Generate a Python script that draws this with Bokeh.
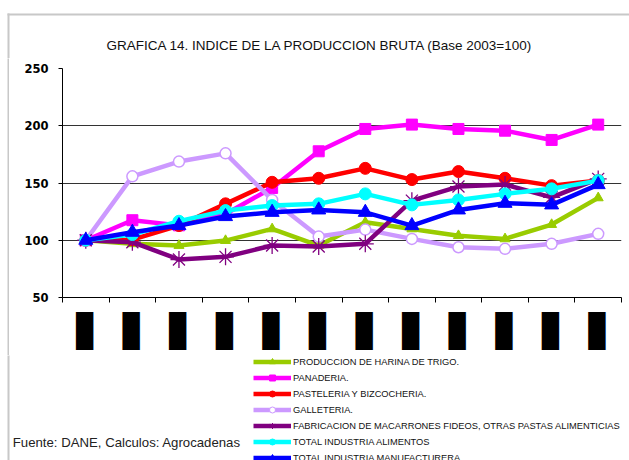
import math
from bokeh.plotting import figure
from bokeh.layouts import column, row
from bokeh.models import (FixedTicker, Legend, LegendItem, Label, Range1d, BoxAnnotation)
from bokeh.embed import file_html
from bokeh.resources import INLINE

# ---- data ----
years = [2003, 2004, 2005, 2006, 2007, 2008, 2009, 2010, 2011, 2012, 2013, 2014]
harina = [100, 96.9, 95.4, 99.7, 109.9, 95.4, 115.7, 109.9, 104.0, 101.2, 113.7, 137.0]
panaderia = [100, 117.5, 113.0, 123.0, 145.7, 177.7, 197.2, 201.0, 197.2, 195.7, 187.6, 201.0]
pasteleria = [100, 100.5, 112.8, 131.8, 150.6, 154.1, 162.8, 153.0, 160.0, 154.1, 147.7, 152.1]
galleteria = [100, 155.8, 168.7, 175.9, 135.2, 103.2, 109.3, 101.2, 93.9, 92.5, 96.9, 105.6]
macarrones = [100, 98.3, 83.2, 85.5, 95.4, 94.5, 96.9, 134.6, 146.9, 148.6, 137.5, 153.6]
alimentos = [100, 105.0, 116.6, 125.9, 130.3, 131.8, 140.5, 130.9, 135.2, 140.5, 144.9, 152.1]
manufacturera = [100, 107.0, 112.8, 120.7, 124.4, 126.5, 124.4, 112.8, 126.5, 132.3, 130.9, 148.6]

series_names = [
    "PRODUCCION DE HARINA DE TRIGO.",
    "PANADERIA.",
    "PASTELERIA Y BIZCOCHERIA.",
    "GALLETERIA.",
    "FABRICACION DE MACARRONES FIDEOS, OTRAS PASTAS ALIMENTICIAS",
    "TOTAL INDUSTRIA ALIMENTOS",
    "TOTAL INDUSTRIA MANUFACTURERA",
]
series_values = [harina, panaderia, pasteleria, galleteria, macarrones, alimentos, manufacturera]
y_ticks = [50, 100, 150, 200, 250]
x_tick_labels = ["\u2589"] * len(years)   # category labels appear as solid black blocks
title_text = "GRAFICA 14. INDICE DE LA PRODUCCION BRUTA (Base 2003=100)"
source_text = "Fuente: DANE, Calculos: Agrocadenas"

# ---- styles ----
styles = [
    dict(color="#99CC00", marker="triangle", size=10, fill="#99CC00", lw=1),
    dict(color="#FF00FF", marker="square", size=11, fill="#FF00FF", lw=1),
    dict(color="#FF0000", marker="circle", size=12, fill="#FF0000", lw=1),
    dict(color="#CC99FF", marker="circle", size=11, fill="#FFFFFF", lw=1.5),
    dict(color="#800080", marker="asterisk", size=17, fill="#800080", lw=1.3),
    dict(color="#00FFFF", marker="circle", size=12, fill="#00FFFF", lw=1),
    dict(color="#0000FF", marker="triangle", size=14, fill="#0000FF", lw=1),
]

FONT = "Liberation Sans"
W = 629
H_TOP = 58      # title strip
H1 = 297        # main plot
H2 = 105        # legend + source strip
W_L = 9         # strip carrying the left edge of the grey frame
GREY = "#c8c8c8"


def blank_fig(width, height):
    f = figure(width=width, height=height, output_backend="svg", toolbar_location=None,
               x_range=Range1d(0, 1), y_range=Range1d(0, 1),
               x_axis_type=None, y_axis_type=None, frame_align=False,
               min_border_left=0, min_border_right=0, min_border_top=0, min_border_bottom=0)
    f.outline_line_color = None
    f.grid.visible = False
    f.background_fill_color = "white"
    f.border_fill_color = "white"
    return f


def grey_box(left, right, bottom, top):
    return BoxAnnotation(left=left, right=right, top=top, bottom=bottom,
                         left_units="screen", right_units="screen",
                         top_units="screen", bottom_units="screen",
                         fill_color=GREY, fill_alpha=1, line_alpha=0)


# ---- title strip ----
pt = blank_fig(W, H_TOP)
pt.add_layout(grey_box(7, W + 10, H_TOP - 15, H_TOP - 13))
pt.add_layout(grey_box(7, 9, -5, H_TOP - 13))
pt.add_layout(Label(x=106, y=H_TOP - 45, x_units="screen", y_units="screen",
                    text=title_text, text_font=FONT, text_font_size="13.5px",
                    text_color="#111111", text_align="left", text_baseline="alphabetic"))

# ---- left edge strip ----
pl = blank_fig(W_L, H1)
pl.add_layout(grey_box(7, 9, -5, H1 + 5))

# ---- main plot ----
p = figure(width=W - W_L, height=H1, output_backend="svg", toolbar_location=None,
           x_range=Range1d(years[0] - 0.5, years[-1] + 0.5),
           y_range=Range1d(y_ticks[0], y_ticks[-1]),
           min_border_left=62 - W_L, min_border_right=8, min_border_top=68 - H_TOP,
           min_border_bottom=H_TOP + H1 - 297, frame_align=False)
p.outline_line_color = None
p.background_fill_color = "white"
p.border_fill_color = "white"

p.xaxis.ticker = FixedTicker(ticks=years, minor_ticks=[y - 0.5 for y in years] + [years[-1] + 0.5])
p.xaxis.major_label_overrides = {y: lab for y, lab in zip(years, x_tick_labels)}
p.xaxis.major_label_orientation = "horizontal"
p.xaxis.major_label_text_font = "DejaVu Sans Mono"
p.xaxis.major_label_text_font_size = "32px"
p.xaxis.major_label_text_color = "black"
p.xaxis.major_label_standoff = 9
p.xaxis.major_tick_out = 0
p.xaxis.major_tick_in = 0
p.xaxis.minor_tick_out = 5
p.xaxis.minor_tick_in = 0
p.xaxis.axis_line_color = "black"
p.xaxis.minor_tick_line_color = "black"

p.yaxis.ticker = FixedTicker(ticks=y_ticks, minor_ticks=[])
p.yaxis.major_label_text_font = "DejaVu Sans"
p.yaxis.major_label_text_font_style = "bold"
p.yaxis.major_label_text_font_size = "11.5px"
p.yaxis.major_label_text_color = "black"
p.yaxis.major_tick_out = 4
p.yaxis.major_tick_in = 0
p.yaxis.major_label_standoff = 10
p.yaxis.axis_line_color = "black"
p.yaxis.major_tick_line_color = "black"

p.xgrid.grid_line_color = None
p.ygrid.ticker = FixedTicker(ticks=y_ticks)
p.ygrid.grid_line_color = "#333333"
p.ygrid.grid_line_width = 1

for vals, st in zip(series_values, styles):
    p.line(years, vals, line_color=st["color"], line_width=4.5)
    p.scatter(years, vals, marker=st["marker"], size=st["size"],
              fill_color=st["fill"], line_color=st["color"], line_width=st["lw"])

# ---- legend + source strip (its view range shows no data) ----
p2 = blank_fig(W, H2)
p2.add_layout(grey_box(7, 9, -5, H2 + 5))

items = []
for name, vals, st in zip(series_names, series_values, styles):
    lr = p2.line(years, vals, line_color=st["color"], line_width=4.5)
    sr = p2.scatter(years, vals, marker=st["marker"], size=6,
                    fill_color=st["fill"], line_color=st["color"], line_width=1)
    items.append(LegendItem(label=name, renderers=[lr, sr]))

legend = Legend(items=items, location=(253, -5), orientation="vertical",
                padding=0, margin=0, spacing=1,
                glyph_width=38, glyph_height=15, label_height=15, label_standoff=2,
                label_text_font=FONT, label_text_font_size="9.3px",
                label_text_color="#111111",
                border_line_color=None, background_fill_alpha=0)
p2.add_layout(legend, "center")

p2.add_layout(Label(x=12.3, y=H2 - 86.7, x_units="screen", y_units="screen",
                    text=source_text,
                    text_font=FONT, text_font_size="13.2px", text_color="#222222",
                    text_align="left", text_baseline="alphabetic"))

layout = column(pt, row(pl, p, spacing=0), p2, spacing=0)

open("out.html", "w").write(file_html(layout, INLINE))
